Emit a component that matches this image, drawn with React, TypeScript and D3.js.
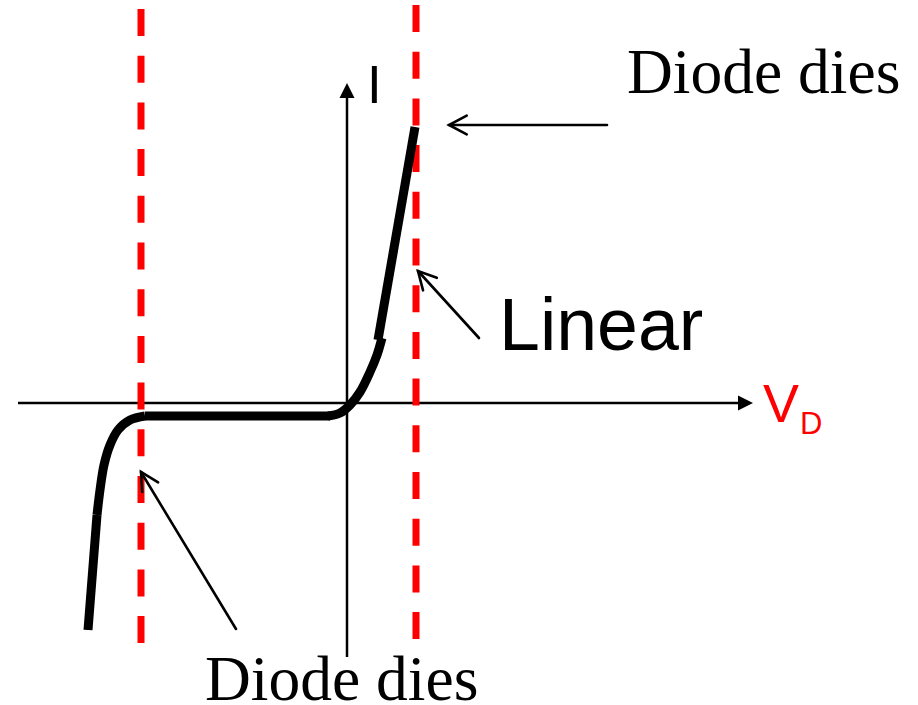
import React from "react";
import * as d3 from "d3";

const W = 918;
const H = 705;

// Data-space curve of diode I-V characteristic (V, I)
const leftLinear: [number, number][] = [
  [-2.59, -2.27],
  [-2.5, -1.12],
];
const leftKnee: [number, number][] = [
  [-2.5, -1.12],
  [-2.47, -0.87],
  [-2.43, -0.62],
  [-2.37, -0.42],
  [-2.29, -0.27],
  [-2.17, -0.17],
  [-2.02, -0.13],
];
const flatPart: [number, number][] = [
  [-2.02, -0.13],
  [-0.17, -0.13],
];
const rightKnee: [number, number][] = [
  [-0.19, -0.13],
  [-0.07, -0.1],
  [0.03, -0.02],
  [0.13, 0.11],
  [0.23, 0.31],
  [0.3, 0.48],
  [0.35, 0.65],
];
const rightLinear: [number, number][] = [
  [0.31, 0.63],
  [0.68, 2.76],
];
const dieVoltages = [-2.06, 0.69];
const dashStarts = [9, 5];

const xScale = d3.scaleLinear().domain([-3.29, 4.06]).range([18, 753]);
const yScale = d3.scaleLinear().domain([-2.54, 3.2]).range([657, 83]);

const lin = d3
  .line<[number, number]>()
  .x((d) => xScale(d[0]))
  .y((d) => yScale(d[1]));
const smooth = d3
  .line<[number, number]>()
  .x((d) => xScale(d[0]))
  .y((d) => yScale(d[1]))
  .curve(d3.curveCatmullRom.alpha(0.5));

function OpenArrow({ x1, y1, x2, y2 }: { x1: number; y1: number; x2: number; y2: number }) {
  const ang = Math.atan2(y2 - y1, x2 - x1);
  const len = 20;
  const spread = Math.PI / 6.5;
  const a1 = [x2 - len * Math.cos(ang - spread), y2 - len * Math.sin(ang - spread)];
  const a2 = [x2 - len * Math.cos(ang + spread), y2 - len * Math.sin(ang + spread)];
  return (
    <g stroke="#000" strokeWidth={2.6} fill="none" strokeLinecap="round">
      <line x1={x1} y1={y1} x2={x2} y2={y2} />
      <polyline points={`${a1[0]},${a1[1]} ${x2},${y2} ${a2[0]},${a2[1]}`} />
    </g>
  );
}

export default function App() {
  const ox = xScale(0);
  const oy = yScale(0);
  const serif = "'Liberation Serif', 'Times New Roman', serif";
  const sans = "'Liberation Sans', Arial, sans-serif";
  return (
    <svg
      width={W}
      height={H}
      style={{ position: "absolute", left: 0, top: 0, background: "#fff" }}
    >
      {/* axes */}
      <line x1={18} y1={oy} x2={740} y2={oy} stroke="#000" strokeWidth={2.5} />
      <polygon points={`753,${oy} 738,${oy - 7.5} 738,${oy + 7.5}`} fill="#000" />
      <line x1={ox} y1={657} x2={ox} y2={96} stroke="#000" strokeWidth={2.5} />
      <polygon points={`${ox},83 ${ox - 7.5},98 ${ox + 7.5},98`} fill="#000" />

      {/* dashed red lines */}
      {dieVoltages.map((v, i) => (
        <line
          key={i}
          x1={xScale(v)}
          x2={xScale(v)}
          y1={dashStarts[i]}
          y2={643}
          stroke="#ff0000"
          strokeWidth={7}
          strokeDasharray="27 19.7"
        />
      ))}

      {/* I-V curve */}
      <g stroke="#000" strokeWidth={9} fill="none">
        <path d={lin(leftLinear) || ""} />
        <path d={smooth(leftKnee) || ""} />
        <path d={lin(flatPart) || ""} />
        <path d={smooth(rightKnee) || ""} />
        <path d={lin(rightLinear) || ""} />
      </g>

      {/* annotation arrows */}
      <OpenArrow x1={607} y1={125} x2={449} y2={125} />
      <OpenArrow x1={479} y1={338} x2={418} y2={271} />
      <OpenArrow x1={236} y1={629} x2={141} y2={472} />

      {/* labels */}
      <text x={367} y={103} fontFamily={sans} fontSize={53} fill="#000">
        I
      </text>
      <text x={763} y={422} fontFamily={sans} fontSize={54} fill="#ff0000">
        V
      </text>
      <text x={800} y={434} fontFamily={sans} fontSize={31} fill="#ff0000">
        D
      </text>
      <text x={499} y={350} fontFamily={sans} fontSize={73.5} fill="#000">
        Linear
      </text>
      <text x={627} y={93} fontFamily={serif} fontSize={63.5} fill="#000">
        Diode dies
      </text>
      <text x={205} y={700} fontFamily={serif} fontSize={63.5} fill="#000">
        Diode dies
      </text>
    </svg>
  );
}
